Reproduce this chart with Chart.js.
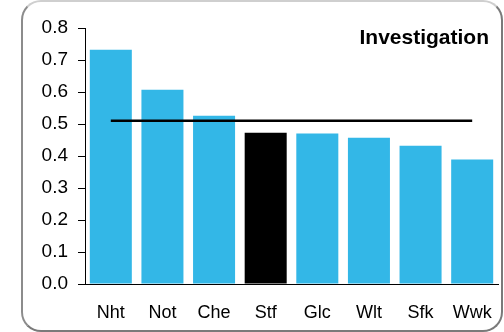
<!DOCTYPE html>
<html>
<head>
<meta charset="utf-8">
<script src="https://cdn.jsdelivr.net/npm/chart.js@4"></script>
<style>
    html, body { margin: 0; padding: 0; background: #fff; }
    #wrap { position: relative; width: 504px; height: 332px; overflow: hidden; }
    #frame {
        position: absolute; left: 21px; top: 0; width: 478px; height: 328px;
        border: 2px solid #7a7a7a; border-top-color: #cfcfcf; border-left-color: #8c8c8c;
        border-radius: 20px;
    }
    #myChart { position: absolute; left: 0; top: 0; }
</style>
</head>
<body>
<div id="wrap">
    <div id="frame"></div>
    <canvas id="myChart" width="504" height="332"></canvas>
</div>
<script>
var categories = ['Nht', 'Not', 'Che', 'Stf', 'Glc', 'Wlt', 'Sfk', 'Wwk'];
var values = [0.732, 0.607, 0.526, 0.473, 0.470, 0.457, 0.432, 0.389];
var average = [0.51, 0.51, 0.51, 0.51, 0.51, 0.51, 0.51, 0.51];
var highlight = 'Stf';
var chartTitle = 'Investigation';

var blue = '#33b7e7';

// title sits inside the plot, top right
var cornerTitle = {
    id: 'cornerTitle',
    afterDraw: function (chart) {
        var ctx = chart.ctx, area = chart.chartArea;
        ctx.save();
        ctx.font = 'bold 21px "Liberation Sans", Arial, sans-serif';
        ctx.fillStyle = '#000';
        ctx.textAlign = 'right';
        ctx.textBaseline = 'middle';
        ctx.fillText(chartTitle, area.right - 9, area.top + 10);
        ctx.restore();
    }
};

window.onload = (function () {
    'use strict'

    var ctx = document.getElementById('myChart')
    var myChart = new Chart(ctx, {
        type: 'bar',
        data: {
            labels: categories,
            datasets: [{
                type: 'line',
                data: average,
                borderColor: '#000',
                borderWidth: 2.5,
                pointRadius: 0,
                fill: false,
                order: 0
            }, {
                data: values,
                backgroundColor: categories.map(function (c) { return c === highlight ? '#000' : blue; }),
                barPercentage: 0.814,
                categoryPercentage: 1,
                order: 1
            }]
        },
        options: {
            responsive: false,
            animation: false,
            layout: { padding: { left: 0, right: 6, top: 28, bottom: 0 } },
            plugins: {
                legend: { display: false },
                tooltip: { enabled: false }
            },
            scales: {
                x: {
                    grid: { display: false, drawTicks: false },
                    border: { display: true, color: '#000', width: 1 },
                    ticks: {
                        color: '#000',
                        padding: 18,
                        font: { family: '"Liberation Sans", Arial, sans-serif', size: 18 }
                    },
                    afterFit: function (s) {
                        s.height = 48;
                        s.paddingLeft = 0;
                        s.paddingRight = 0;
                    }
                },
                y: {
                    min: 0,
                    max: 0.8,
                    grid: { drawOnChartArea: false, tickLength: 7, color: '#000' },
                    border: { display: true, color: '#000', width: 1 },
                    ticks: {
                        stepSize: 0.1,
                        color: '#000',
                        padding: 10,
                        font: { family: '"Liberation Sans", Arial, sans-serif', size: 19 },
                        callback: function (v) { return v.toFixed(1); }
                    },
                    afterFit: function (s) { s.width = 85; }
                }
            }
        },
        plugins: [cornerTitle]
    })
}());
</script>
</body>
</html>
